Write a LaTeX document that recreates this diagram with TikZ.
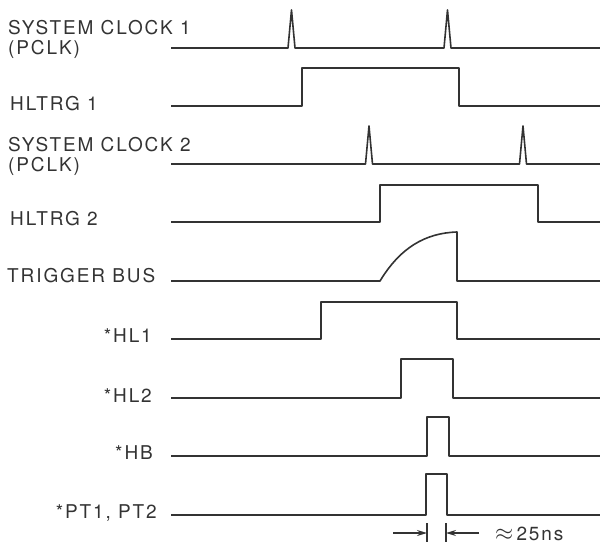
\documentclass[tikz,border=0pt]{standalone}
\usepackage{fontspec}
\setmainfont{TeX Gyre Heros}[LetterSpace=10]
\usetikzlibrary{arrows.meta,positioning}
\definecolor{ink}{HTML}{333333}
\tikzset{
  wave/.style={draw=ink,line width=1.6pt,line join=round},
  sig/.style={anchor=base west,inner sep=0pt,text=ink,
              font=\fontsize{19}{20}\selectfont},
  sigr/.style={sig,anchor=base east},
  dim/.style={-{Stealth[length=10pt,width=6pt]},draw=ink,line width=1.2pt},
  tickmark/.style={draw=ink,line width=1.2pt}
}

\begin{document}
\begin{tikzpicture}[x=1pt,y=-1pt]
    \useasboundingbox (0,0) rectangle (600,544);
    % signal names
    \node[sig,anchor=north west,align=left] (clka) at (8,20) {SYSTEM CLOCK 1\\(PCLK)};
    \node[sig] (hltrga) at (10,110) {HLTRG 1};
    \node[sig,anchor=north west,align=left] (clkb) at (8,137) {SYSTEM CLOCK 2\\(PCLK)};
    \node[sig] (hltrgb) at (10,225) {HLTRG 2};
    \node[sig] (tbus) at (7,282) {TRIGGER BUS};
    \node[sigr] (hla) at (152,342) {*HL1};
    \node[sigr] (hlb) at (152,402) {*HL2};
    \node[sigr] (hb) at (153,459) {*HB};
    \node[sigr] (pt) at (157,518) {*PT1, PT2};
    % waveforms
    \draw[wave] (171,48) -- (288,48) -- (291.5,10) -- (295,48) -- (444,48)
                -- (447.5,10) -- (451,48) -- (600,48);
    \draw[wave] (171,106) -- (302,106) -- (302,68) -- (459,68) -- (459,106) -- (600,106);
    \draw[wave] (171,164) -- (365.5,164) -- (369,126) -- (372.5,164) -- (519.5,164)
                -- (523,126) -- (526.5,164) -- (600,164);
    \draw[wave] (171,222) -- (380,222) -- (380,185) -- (538,185) -- (538,222) -- (600,222);
    \draw[wave] (171,281) -- (380,281) .. controls (400,248) and (425,233) .. (457,232)
                -- (457,281) -- (600,281);
    \draw[wave] (171,339) -- (321,339) -- (321,302) -- (457,302) -- (457,339) -- (600,339);
    \draw[wave] (171,398) -- (401,398) -- (401,359) -- (453,359) -- (453,398) -- (600,398);
    \draw[wave] (171,456) -- (427,456) -- (427,417) -- (449,417) -- (449,456) -- (600,456);
    \draw[wave] (171,515) -- (426,515) -- (426,474) -- (447,474) -- (447,515) -- (600,515);
    % pulse width
    \coordinate (pl) at (427,533);
    \coordinate (pr) at (446,533);
    \coordinate (la) at (393,533);
    \coordinate (ra) at (479,533);
    \draw[tickmark] (427,523) -- (427,542);
    \draw[tickmark] (446,523) -- (446,542);
    \draw[dim] (la) -- (pl);
    \draw[dim] (ra) -- (pr);
    \node[sig] (width) at (495,540) {\scalebox{1.35}{$\approx$}\,25ns};
\end{tikzpicture}
\end{document}
